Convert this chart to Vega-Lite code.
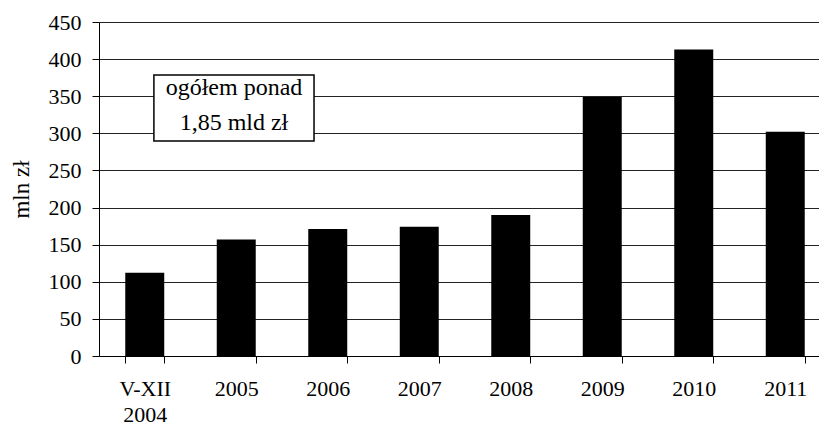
{
  "$schema": "https://vega.github.io/schema/vega-lite/v6.json",
  "autosize": {"type": "none"},
  "padding": {"left": 99, "top": 22, "right": 0, "bottom": 71},
  "width": 720,
  "height": 334,
  "background": "white",
  "config": {
    "view": {"stroke": null},
    "font": "Liberation Serif",
    "axis": {"titleFontSize": 23, "titleFont": "Liberation Serif", "titleFontWeight": "normal", "titleColor": "black", "labelFont": "Liberation Serif", "labelFontSize": 22, "labelColor": "black", "tickColor": "black", "domainColor": "black", "tickSize": 7}
  },
  "datasets": {
    "bars": [
      {"okres": "V-XII 2004", "wartosc": 112},
      {"okres": "2005", "wartosc": 157},
      {"okres": "2006", "wartosc": 171},
      {"okres": "2007", "wartosc": 174},
      {"okres": "2008", "wartosc": 190},
      {"okres": "2009", "wartosc": 349},
      {"okres": "2010", "wartosc": 413},
      {"okres": "2011", "wartosc": 302}
    ],
    "box": [
      {"x1": 0.6, "x2": 2.35, "wartosc": 289.6, "wartosc_do": 378.5}
    ],
    "notes": [
      {"xc": 1.475, "wartosc": 351, "tekst": "ogółem ponad"},
      {"xc": 1.475, "wartosc": 304, "tekst": "1,85 mld zł"}
    ]
  },
  "layer": [
    {
      "data": {"name": "bars"},
      "mark": {"type": "bar", "color": "black"},
      "encoding": {
        "x": {
          "field": "okres", "type": "nominal", "sort": null,
          "scale": {"range": [0, 732], "paddingInner": 0.574, "paddingOuter": 0.287},
          "axis": {
            "title": null, "labelAngle": 0, "labelPadding": 15,
            "tickBand": "extent", "labelLineHeight": 26,
            "labelExpr": "datum.label == 'V-XII 2004' ? ['V-XII', '2004'] : datum.label"
          }
        },
        "y": {
          "field": "wartosc", "type": "quantitative",
          "scale": {"domain": [0, 450], "nice": false},
          "axis": {
            "title": "mln zł", "titlePadding": 15, "labelPadding": 11,
            "values": [0, 50, 100, 150, 200, 250, 300, 350, 400, 450], "labelOverlap": false,
            "gridColor": "#222", "gridOpacity": 1, "gridWidth": 1
          }
        }
      }
    },
    {
      "data": {"name": "box"},
      "mark": {"type": "rect", "fill": "white", "stroke": "black", "strokeWidth": 1.5},
      "encoding": {
        "x": {"field": "x1", "type": "quantitative", "scale": {"domain": [0, 8], "range": [0, 732]}, "axis": null},
        "x2": {"field": "x2"},
        "y": {
          "field": "wartosc", "type": "quantitative",
          "scale": {"domain": [0, 450], "nice": false},
          "axis": {
            "title": "mln zł", "titlePadding": 15, "labelPadding": 11,
            "values": [0, 50, 100, 150, 200, 250, 300, 350, 400, 450], "labelOverlap": false,
            "gridColor": "#222", "gridOpacity": 1, "gridWidth": 1
          }
        },
        "y2": {"field": "wartosc_do"}
      }
    },
    {
      "data": {"name": "notes"},
      "mark": {"type": "text", "fontSize": 24, "font": "Liberation Serif", "color": "black", "align": "center", "baseline": "alphabetic"},
      "encoding": {
        "x": {"field": "xc", "type": "quantitative", "scale": {"domain": [0, 8], "range": [0, 732]}, "axis": null},
        "y": {
          "field": "wartosc", "type": "quantitative",
          "scale": {"domain": [0, 450], "nice": false},
          "axis": {
            "title": "mln zł", "titlePadding": 15, "labelPadding": 11,
            "values": [0, 50, 100, 150, 200, 250, 300, 350, 400, 450], "labelOverlap": false,
            "gridColor": "#222", "gridOpacity": 1, "gridWidth": 1
          }
        },
        "text": {"field": "tekst"}
      }
    }
  ],
  "resolve": {"scale": {"x": "independent"}}
}
